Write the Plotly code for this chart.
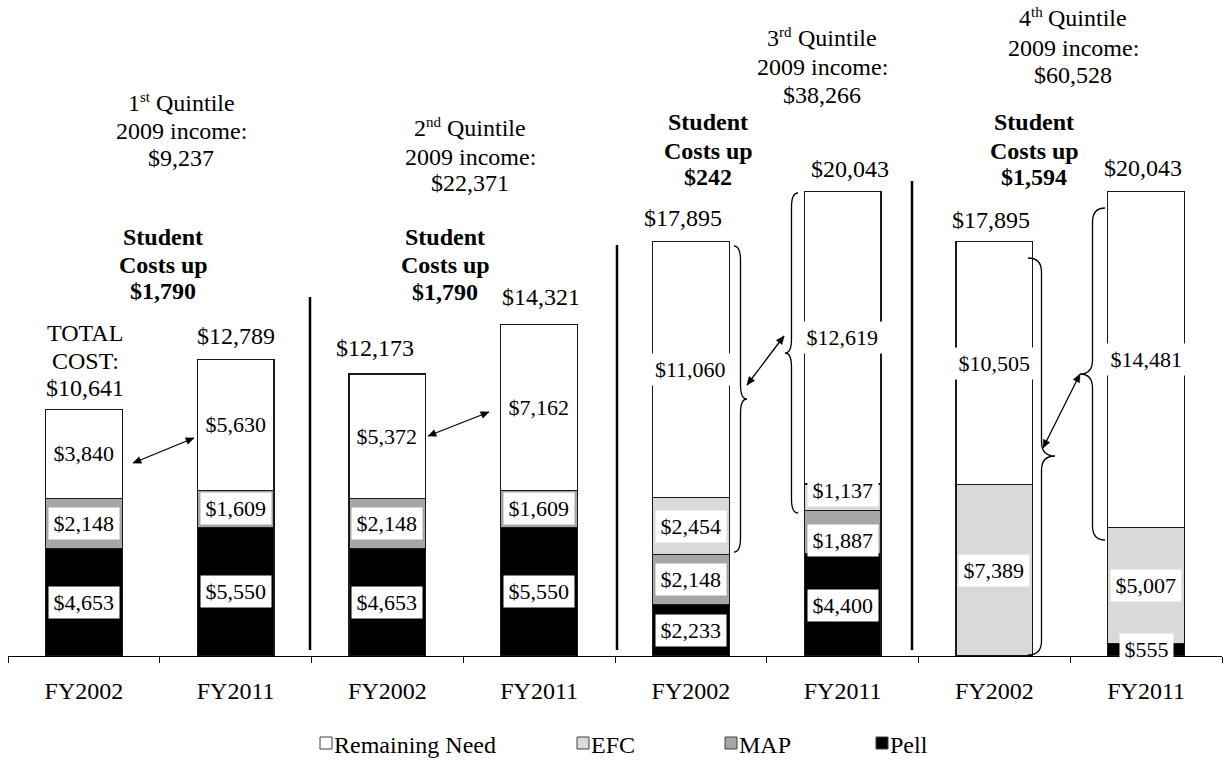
import math
import plotly.graph_objects as go

# ---- data -------------------------------------------------------------
bar_labels = ["FY2002", "FY2011"] * 4
pell = [4653, 5550, 4653, 5550, 2233, 4400, 0, 555]
map_award = [2148, 1609, 2148, 1609, 2148, 1887, 0, 0]
efc = [0, 0, 0, 0, 2454, 1137, 7389, 5007]
remaining_need = [3840, 5630, 5372, 7162, 11060, 12619, 10505, 14481]
total_cost = [10641, 12789, 12173, 14321, 17895, 20043, 17895, 20043]

quintile_num = ["1", "2", "3", "4"]
quintile_suffix = ["st", "nd", "rd", "th"]
quintile_income = ["$9,237", "$22,371", "$38,266", "$60,528"]
cost_increase = ["$1,790", "$1,790", "$242", "$1,594"]

# stacking order bottom -> top
series = [
    ("Pell", pell, "#000000"),
    ("MAP", map_award, "#a6a6a6"),
    ("EFC", efc, "#d9d9d9"),
    ("Remaining Need", remaining_need, "#ffffff"),
]
legend_order = ["Remaining Need", "EFC", "MAP", "Pell"]

# ---- geometry ---------------------------------------------------------
W, H = 1225, 765
ML, MR, MT, MB = 8, 3, 100, 109
PW, PH = W - ML - MR, H - MT - MB
YMAX = 24000
FONT = "Liberation Serif, Times New Roman, serif"
BIG, SUP = 24, 15

# approximate Times/Liberation Serif advance widths (em)
EM = {"s": 0.389, "t": 0.278, "n": 0.5, "d": 0.5, "r": 0.333, "h": 0.5,
      " ": 0.25, "Q": 0.722, "u": 0.5, "i": 0.278, "l": 0.278, "e": 0.444}


def text_w(s, size):
    return sum(EM.get(ch, 0.5) for ch in s) * size


def px(x):
    return (x - ML) / PW


def py(y):
    return (H - MB - y) / PH


def money(v):
    return "${:,}".format(v)


fig = go.Figure()
x_pos = list(range(len(bar_labels)))
for name, vals, color in series:
    fig.add_trace(go.Bar(
        x=x_pos, y=vals, name=name, width=0.507,
        marker=dict(color=color, line=dict(color="#1a1a1a", width=1.2)),
        showlegend=False, hoverinfo="skip",
    ))

annotations = []
shapes = []

# value labels in white boxes at the centre of each segment
label_nudge = {(5, "MAP"): -8, (5, "EFC"): 7}
for i in x_pos:
    base = 0
    for name, vals, color in series:
        v = vals[i]
        if v > 0:
            txt = money(v)
            n_digits = sum(ch.isdigit() for ch in txt)
            est_w = 11 * (n_digits + 1) + 5.5 * txt.count(",") + 3
            annotations.append(dict(
                x=i, y=base + v / 2, xref="x", yref="y", text=txt,
                showarrow=False, bgcolor="white", borderpad=3,
                width=est_w, height=25,
                yshift=label_nudge.get((i, name), 0),
                font=dict(family=FONT, size=22, color="black"),
            ))
        base += v

# total cost above each bar
total_dy = [21, 24, 26, 27, 23, 23, 21, 24]
total_dx = [1, 0, -12, 2, -8, 7, -3, -3]
for i, t in enumerate(total_cost):
    annotations.append(dict(
        x=i, y=t, xref="x", yref="y", text=money(t), showarrow=False,
        yanchor="middle", yshift=total_dy[i], xshift=total_dx[i],
        font=dict(family=FONT, size=BIG, color="black"),
    ))


def text_at(text, x, y, size=BIG, anchor="center", dy=0):
    annotations.append(dict(
        x=px(x), y=py(y), xref="paper", yref="paper", text=text,
        showarrow=False, xanchor=anchor, yanchor="middle", yshift=dy,
        borderpad=0, borderwidth=0,
        font=dict(family=FONT, size=size, color="black"),
    ))


def text_block(lines, cx, ys, bold=False):
    for line, y in zip(lines, ys):
        text_at(f"<b>{line}</b>" if bold else line, cx, y)


def quintile_line(num, suffix, cx, y):
    # "1st Quintile" with a raised, smaller ordinal suffix
    word = "Quintile"
    w_num = text_w(num, BIG)
    w_suf = text_w(suffix, SUP)
    w_gap = text_w(" ", BIG)
    start = cx - (w_num + w_suf + w_gap + text_w(word, BIG)) / 2
    text_at(num, start, y, anchor="left")
    text_at(suffix, start + w_num, y, size=SUP, anchor="left", dy=6)
    text_at(word, start + w_num + w_suf + w_gap, y, anchor="left")


text_block(["TOTAL", "COST:"], 85, [333, 361])

title_pos = [(181, [103, 131, 158]), (470, [128, 157, 183]),
             (822, [38, 67, 95]), (1073, [18, 48, 75])]
bold_pos = [(163, [237, 265, 291]), (445, [237, 265, 292]),
            (708, [122, 151, 177]), (1034, [122, 151, 177])]
for q in range(4):
    cx, ys = title_pos[q]
    quintile_line(quintile_num[q], quintile_suffix[q], cx, ys[0])
    text_block(["2009 income:", quintile_income[q]], cx, ys[1:])
    cx, ys = bold_pos[q]
    text_block(["Student", "Costs up", cost_increase[q]], cx, ys, bold=True)


# double-headed arrows between the remaining-need segments
def arrow_shapes(p0, p1, head_len=8, head_half=3.5):
    (x0, y0), (x1, y1) = p0, p1
    out = [dict(type="line", xref="paper", yref="paper",
                x0=px(x0), y0=py(y0), x1=px(x1), y1=py(y1),
                line=dict(color="black", width=1.3))]
    d = math.hypot(x1 - x0, y1 - y0)
    ux, uy = (x1 - x0) / d, (y1 - y0) / d
    for (tx, ty), s in (((x1, y1), 1), ((x0, y0), -1)):
        bx, by = tx - s * ux * head_len, ty - s * uy * head_len
        nx, ny = -uy * head_half, ux * head_half
        path = (f"M {px(tx)},{py(ty)} L {px(bx + nx)},{py(by + ny)} "
                f"L {px(bx - nx)},{py(by - ny)} Z")
        out.append(dict(type="path", xref="paper", yref="paper", path=path,
                        fillcolor="black", line=dict(color="black", width=0.5)))
    return out


arrows = [((133, 463), (194, 438)), ((428, 436), (489, 412)),
          ((747, 385), (784, 336)), ((1043, 448), (1080, 374))]
for a, b in arrows:
    shapes.extend(arrow_shapes(a, b))


# curly braces
def brace(x_end, x_tip, y_top, y_bot, y_mid, r=14):
    xv = (x_end + x_tip) / 2
    pts = [
        f"M {px(x_end)},{py(y_top)}",
        f"Q {px(xv)},{py(y_top)} {px(xv)},{py(y_top + r)}",
        f"L {px(xv)},{py(y_mid - r)}",
        f"Q {px(xv)},{py(y_mid)} {px(x_tip)},{py(y_mid)}",
        f"Q {px(xv)},{py(y_mid)} {px(xv)},{py(y_mid + r)}",
        f"L {px(xv)},{py(y_bot - r)}",
        f"Q {px(xv)},{py(y_bot)} {px(x_end)},{py(y_bot)}",
    ]
    return dict(type="path", path=" ".join(pts), xref="paper", yref="paper",
                line=dict(color="black", width=1.3))


shapes.append(brace(734, 747, 246, 552, 399))
shapes.append(brace(798, 785, 193, 513, 353))
shapes.append(brace(1028, 1055, 258, 655, 456))
shapes.append(brace(1105, 1080, 208, 540, 374))

# vertical separators between quintile groups
for sx, top in [(310, 297), (617, 245), (912, 181)]:
    shapes.append(dict(type="line", xref="paper", yref="paper",
                       x0=px(sx), x1=px(sx), y0=py(650), y1=py(top),
                       line=dict(color="black", width=2.5)))

# legend
series_color = {name: color for name, _, color in series}
legend_x = {"Remaining Need": 320, "EFC": 577, "MAP": 725, "Pell": 876}
for name in legend_order:
    lx = legend_x[name]
    shapes.append(dict(type="rect", xref="paper", yref="paper",
                       x0=px(lx), x1=px(lx + 12), y0=py(749), y1=py(737),
                       fillcolor=series_color[name],
                       line=dict(color="#404040", width=1)))
    text_at(name, lx + 14, 745, anchor="left")

fig.update_layout(
    width=W, height=H, barmode="stack",
    margin=dict(l=ML, r=MR, t=MT, b=MB),
    paper_bgcolor="white", plot_bgcolor="white",
    showlegend=False,
    annotations=annotations, shapes=shapes,
    xaxis=dict(
        range=[-0.5, len(bar_labels) - 0.5], tickmode="array",
        tickvals=x_pos, ticktext=bar_labels, ticks="",
        showline=True, linecolor="black", linewidth=1.3,
        showgrid=False, zeroline=False, ticklabelstandoff=13,
        tickfont=dict(family=FONT, size=BIG, color="black"),
        minor=dict(ticks="outside", ticklen=6, tickwidth=1.3,
                   tickcolor="black", tickmode="array",
                   tickvals=[k - 0.5 for k in range(len(bar_labels) + 1)],
                   showgrid=False),
    ),
    yaxis=dict(range=[0, YMAX], visible=False, showgrid=False),
)

fig.write_html("out.html")
